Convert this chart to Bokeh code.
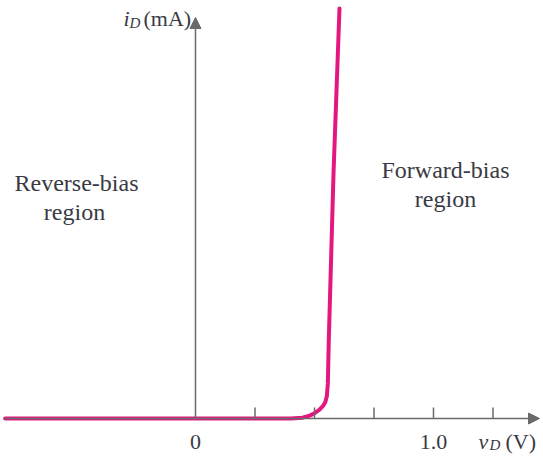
from bokeh.plotting import figure
from bokeh.models import Range1d, Arrow, NormalHead
from bokeh.core.properties import value
from bokeh.embed import file_html
from bokeh.resources import INLINE

# ---------------- data ----------------
v_volts = [-0.80, 0.00, 0.40, 0.45, 0.48, 0.50, 0.52, 0.535, 0.545, 0.552, 0.556, 0.56, 0.58, 0.605]
i_ma = [0.0, 0.0, 0.0, 0.02, 0.07, 0.13, 0.21, 0.30, 0.39, 0.55, 0.85, 1.9, 6.0, 10.0]
tick_volts = [0.25, 0.5, 0.75, 1.0, 1.25]
tick_label_volts = [0.0, 1.0]
tick_label_text = ["0", "1.0"]
x_title = ["v", "D", "(V)"]
y_title = ["i", "D", "(mA)"]
region_left = ["Reverse-bias", "region"]
region_right = ["Forward-bias", "region"]

# ---------------- layout ----------------
W, H = 543, 458
PXV, PXI = 238.0, 41.0          # pixels per volt / per mA
OX, OY = 195.0, 418.0           # origin in canvas pixels

def X(px):  # canvas pixel -> volts
    return (px - OX) / PXV

def Y(py):  # canvas pixel -> mA
    return (OY - py) / PXI

AX = "#6a6a6a"
PINK = "#E4177F"
TXT = "#3a3a44"
SERIF = value("Liberation Serif")

p = figure(width=W, height=H, output_backend="svg", toolbar_location=None,
           x_range=Range1d(X(0), X(W)), y_range=Range1d(Y(H), Y(0)),
           x_axis_type=None, y_axis_type=None, min_border=0,
           outline_line_color=None, background_fill_color="white",
           border_fill_color="white")
p.grid.visible = False

# axes with arrow heads
p.add_layout(Arrow(x_start=X(4), y_start=0, x_end=X(539), y_end=0,
                   line_color=AX, line_width=1.5,
                   end=NormalHead(size=11, fill_color=AX, line_color=AX, line_width=1)))
p.add_layout(Arrow(x_start=0, y_start=0, x_end=0, y_end=Y(17),
                   line_color=AX, line_width=1.5,
                   end=NormalHead(size=11, fill_color=AX, line_color=AX, line_width=1)))

# the diode curve
p.line(v_volts, i_ma, line_color=PINK, line_width=4, line_join="round", line_cap="round")

# tick marks
tick_len = 11 / PXI
p.segment(x0=tick_volts, y0=[0] * len(tick_volts), x1=tick_volts,
          y1=[tick_len] * len(tick_volts), line_color=AX, line_width=1.5)

# tick labels
p.text(x=tick_label_volts, y=[0, 0], text=tick_label_text, y_offset=23,
       text_font=SERIF, text_font_size="22px", text_align="center",
       text_baseline="alphabetic", text_color=TXT)

# axis titles
def piece(px, py, s, size, style):
    p.text(x=[X(px)], y=[Y(py)], text=[s], text_font=SERIF, text_font_size=size,
           text_font_style=style, text_align="left", text_baseline="alphabetic",
           text_color=TXT)

piece(123, 18, y_title[0], "22px", "italic")
piece(129, 22, y_title[1], "15px", "italic")
piece(143, 18, y_title[2], "22px", "normal")
piece(478, 441, x_title[0], "22px", "italic")
piece(489, 444, x_title[1], "15px", "italic")
piece(505, 441, x_title[2], "22px", "normal")

# region labels
p.text(x=[X(76), X(74)], y=[Y(182), Y(211)], text=region_left,
       text_font=SERIF, text_font_size="24px", text_align="center",
       text_baseline="alphabetic", text_color=TXT)
p.text(x=[X(445), X(445)], y=[Y(169), Y(198)], text=region_right,
       text_font=SERIF, text_font_size="24px", text_align="center",
       text_baseline="alphabetic", text_color=TXT)

open("out.html", "w").write(file_html(p, INLINE))
